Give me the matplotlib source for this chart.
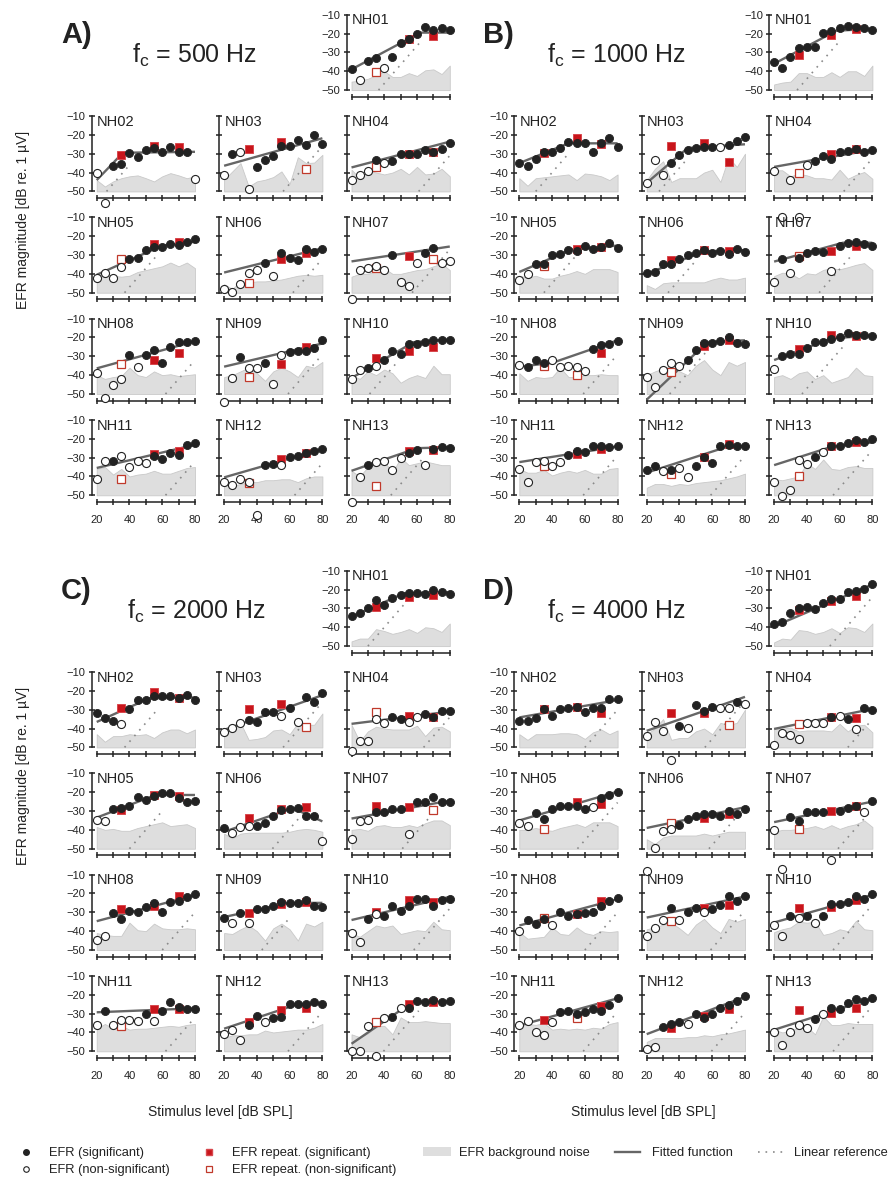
import matplotlib.pyplot as plt
import numpy as np
from matplotlib.lines import Line2D
from matplotlib.patches import Patch

plt.rcParams['font.family'] = ['Liberation Sans', 'DejaVu Sans']
plt.rcParams['mathtext.default'] = 'regular'

levels = np.arange(20, 81, 5)
rep_levels = [35, 55, 70]
subjects = ['NH%02d' % i for i in range(1, 14)]

# ---------------- fc = 500 Hz ----------------
efr_500 = [
    [-38.8, -44.7, -34.6, -33.2, -38.1, -32.3, -24.9, -23, -20, -16.7, -18.1, -17.3, -18.1],
    [-40.3, -56.2, -36.3, -35.4, -29.7, -31.5, -28.3, -27.1, -29.2, -26.2, -29, -28.9, -43.5],
    [-41.5, -30.1, -28.9, -48.6, -37.3, -33.6, -31.1, -25.9, -25.9, -22.7, -25.3, -20, -24.8],
    [-43.8, -41.5, -39.1, -33.3, -35, -34.1, -30.1, -30.3, -30.3, -28, -28.9, -27.6, -24.4],
    [-42.2, -39.6, -42.2, -36.6, -32.2, -31.7, -27.6, -25.5, -25.5, -24.1, -24.8, -22.9, -21.6],
    [-48, -49.6, -45.2, -39.6, -37.8, -34.2, -41, -29, -31.5, -32.6, -26.9, -28.6, -26.9],
    [-53.3, -38.2, -37, -36, -37.8, -29.9, -44.5, -46.3, -34.3, -28.9, -26.4, -34, -33.1],
    [-39.1, -52.3, -45.2, -42.1, -29.4, -35.6, -29.4, -26.4, -33.8, -25.3, -22.5, -22.5, -21.8],
    [-54, -41.4, -30.6, -36.4, -36.4, -33.4, -44.7, -29.4, -27.6, -27.1, -27.1, -25.5, -21.1],
    [-42.1, -37.3, -36.4, -35.2, -31.7, -27.1, -29, -23.7, -23.7, -22.3, -21.1, -21.1, -21.5],
    [-41.4, -32, -32, -28.9, -35, -32, -32.6, -29.4, -30.8, -27.3, -28.5, -23.2, -22],
    [-43.1, -44.7, -41.4, -43.1, -60.7, -34.1, -33.3, -34.1, -29.7, -29.4, -27.3, -26.7, -25.5],
    [-53.7, -40.3, -34.1, -32.4, -31.7, -36.8, -30.3, -27.3, -25.9, -34.1, -25.3, -24.4, -25],
]
sig_500 = ["1011011111111", "0011111111110", "0100111111111", "0001011111111",
           "0000111111111", "0000010111111", "0000010001100", "0000101111111",
           "0010010011111", "0010111111111", "0010000111111", "0000011011111",
           "0010000110111"]
rep_500 = [[-40.3, -22.9, -21.2], [-30.6, -25.7, -26.7], [-27.6, -23.9, -38],
           [-36.8, -30.3, -29.2], [-32, -24.3, -22.9], [-44.8, -32.2, -28.9],
           [-37.1, -30.4, -32.2], [-34.1, -31.7, -28.5], [-40.8, -34.3, -25.3],
           [-30.8, -27.3, -25], [-41.2, -28.1, -26.7], [-43.5, -30.6, -27.6],
           [-44.9, -26.7, -25.9]]
rep_sig_500 = ["011", "111", "110", "011", "011", "011", "010", "011", "011",
               "111", "011", "011", "011"]
noise_500 = [
    [-45.5, -45, -44, -42, -40, -43, -43, -41, -42.5, -39.5, -39, -41.5, -37],
    [-44, -47.4, -44.7, -43, -42, -41.5, -43, -44.7, -42, -40.3, -41.5, -43, -42],
    [-43.8, -39.4, -35, -47.4, -44.7, -43.8, -42.4, -39.4, -46, -31.9, -35, -34.7, -30.6],
    [-38.5, -43, -39, -40, -41, -40, -38, -41, -37, -41, -40.5, -38, -42],
    [-41, -40, -41, -41.5, -41, -39, -38, -37, -36, -34, -36, -34, -37],
    [-45.5, -48, -44, -44.5, -44, -44, -43.5, -43, -42, -41, -40.5, -41, -40.5],
    [-41.5, -40, -40, -38.5, -37, -40, -40, -39, -38, -37.5, -36, -34.5, -38],
    [-40, -42, -41, -40.5, -36, -40, -41, -38, -40, -39.5, -40.5, -40, -39.5],
    [-41, -40, -38, -36, -39, -43, -38, -36, -38, -41, -35, -36, -33],
    [-40, -42, -38, -40, -37, -39, -44, -41.5, -40, -41.5, -35, -39.5, -39.5],
    [-36, -35, -39, -36, -40, -39, -38.5, -37, -38.5, -38.5, -37, -35.5, -35],
    [-44, -45, -44, -43, -43, -42, -42, -41.5, -41.5, -43, -41, -40, -40],
    [-37, -40, -35, -32, -32, -38, -30, -34, -33, -32, -33, -34, -34],
]
fit_500 = [([20, 62, 80], [-39, -19.5, -19.5]), ([20, 36, 80], [-44, -29.5, -29]),
           ([20, 80], [-36.4, -21.8]), ([20, 80], [-37.3, -23.6]),
           ([20, 60, 80], [-40.5, -25, -23]), ([20, 80], [-39.3, -26.4]),
           ([20, 80], [-33.4, -25.5]), ([20, 80], [-36.4, -22]),
           ([20, 80], [-35.5, -23.2]), ([20, 58, 80], [-41.5, -22.5, -21]),
           ([20, 80], [-35.5, -23.2]), ([20, 80], [-40.5, -25.5]),
           ([20, 60, 80], [-37, -25, -24.5])]
lin_500 = [(36.5, 62), (26, 40), (56, 80), (61, 80), (37, 58), (62, 80), (57, 80),
           (62, 80), (59, 80), (31, 48), (62, 80), (63, 80), (44, 64)]

# ---------------- fc = 1000 Hz ----------------
efr_1000 = [
    [-35.3, -38.5, -32.3, -27.5, -27, -27.3, -19.9, -18.7, -17.3, -15.8, -16.7, -17.3, -18.1],
    [-34.7, -36.3, -32.9, -28.9, -28.9, -27.1, -23.6, -24.4, -24.4, -28.9, -24.1, -21.8, -26.7],
    [-45.6, -33.6, -41.2, -34.7, -30.6, -28.3, -27.1, -26.2, -26.6, -26.6, -25.3, -23, -21.3],
    [-39.2, -63.7, -43.7, -63.7, -36.1, -33.8, -31.3, -32.9, -29.3, -28.6, -27.7, -29.3, -28],
    [-43.2, -40.2, -34.9, -34.9, -30, -29.6, -27.3, -27.7, -25.2, -27, -25.6, -23.8, -26.1],
    [-39.6, -38.8, -34.9, -34.9, -32.2, -30, -28.7, -27.3, -29.1, -27.7, -29.4, -27, -28.2],
    [-44.2, -32.2, -39.7, -31.6, -28.9, -28, -28.6, -38.5, -25, -23.5, -23, -24.4, -25.3],
    [-34.7, -35.6, -32.1, -33.5, -32.1, -35.6, -35.1, -35.6, -37.8, -25.9, -24.1, -23.6, -22],
    [-40.8, -46.5, -37.3, -33.8, -35.2, -31.7, -26.4, -23.2, -23.2, -21.8, -20, -23.2, -23.7],
    [-37, -30, -28.8, -29, -25.5, -22.3, -22.3, -20.6, -20, -17.9, -18.5, -18.8, -19.2],
    [-36.1, -43.1, -32.4, -31.7, -34.7, -32.4, -28.5, -26.7, -27.1, -24.1, -24.1, -24.4, -24.1],
    [-36.8, -34.3, -37.3, -36.4, -35.6, -40.5, -34.7, -29.9, -32.6, -23.6, -23.2, -23.7, -23.6],
    [-43.1, -50.2, -47, -31.1, -33.3, -29.9, -27.1, -23.7, -23.6, -22, -20.9, -21.5, -20],
]
sig_1000 = ["1111111111111", "1111111111111", "0001111110111", "0000011111111",
            "0011111111111", "1111111111111", "0101111011111", "0111000001111",
            "0000011111111", "0111111111111", "0000001111111", "1101001111111",
            "0000010111111"]
rep_1000 = [[-31.4, -20.8, -17.8], [-29.4, -21.5, -24.8], [-25.9, -24.4, -34.5],
            [-40.1, -30.4, -27.5], [-36.1, -26.8, -25.9], [-32.6, -27.3, -27.8],
            [-30.7, -28, -25], [-35.1, -40, -28.1], [-38.2, -24.4, -21.5],
            [-26.2, -18.8, -19.2], [-34.7, -28.1, -25.3], [-38.5, -29.9, -22.7],
            [-40, -24.1, -21.8]]
rep_sig_1000 = ["111", "111", "111", "011", "011", "111", "011", "001", "011",
                "111", "011", "011", "011"]
noise_1000 = [
    [-47, -46, -45.5, -41, -41, -43, -43, -40.5, -43, -40, -40, -42.5, -37],
    [-43, -47, -43, -42.5, -42, -41.5, -41, -44, -40.5, -41, -42, -44, -41],
    [-44, -38, -34, -45, -43, -43, -43, -40, -38.5, -45, -32, -37, -30],
    [-38.8, -38.8, -42, -40.6, -41.5, -43, -43, -43.7, -38.5, -43.3, -41.2, -39.7, -43.3],
    [-41, -42, -41, -42.5, -42.5, -41, -40, -38.5, -40, -37.5, -37.5, -37.5, -39],
    [-46, -48, -45, -44.5, -44.5, -44.5, -44.5, -44.5, -43, -42, -43, -43, -42],
    [-41.2, -39.4, -39.7, -42.4, -39.7, -40.3, -37.9, -37, -37.6, -36.5, -35.2, -34.3, -37.9],
    [-39, -43, -41, -41.5, -41, -36, -41, -41, -40, -40, -39.5, -40, -40],
    [-40, -38, -36.5, -35, -38, -40, -35, -32, -37, -40, -33, -35, -33],
    [-41, -40, -42, -39, -38, -42, -40, -44, -42.5, -41, -36, -40, -40.5],
    [-36, -38, -38, -36.5, -39.5, -38, -37, -38, -36.5, -38.5, -38.5, -36, -35.5],
    [-46, -44, -44, -45, -44, -44.5, -43.5, -43, -42.5, -42, -41, -40, -38.5],
    [-41.5, -42, -41, -40, -33, -36, -31, -36, -36.5, -35, -34.5, -35.5, -35.5],
]
fit_1000 = [([20, 58, 80], [-36, -18.5, -17.5]), ([20, 50, 80], [-35, -24.5, -24.5]),
            ([20, 45, 80], [-45.5, -27, -25]), ([20, 46, 80], [-37, -33, -28]),
            ([20, 52, 80], [-39, -27, -25]), ([20, 55, 80], [-40, -28, -27.5]),
            ([20, 62, 80], [-33.5, -23.5, -23.5]), ([20, 40, 80], [-35.5, -33.5, -21.5]),
            ([20, 57, 80], [-53, -22.5, -21.5]), ([20, 55, 80], [-32, -20.5, -19]),
            ([20, 80], [-32.4, -24.1]), ([20, 70, 80], [-38, -24, -24]),
            ([20, 56, 80], [-34, -24, -22])]
lin_1000 = [(34, 60), (30, 50), (27.5, 44), (62.5, 80), (35, 56), (33, 50), (47.5, 67),
            (59, 80), (34, 57), (37, 62), (59, 80), (59, 80), (56, 80)]

# ---------------- fc = 2000 Hz ----------------
efr_2000 = [
    [-34.2, -32.7, -29.7, -25.6, -28, -24.4, -23, -21.7, -21.7, -22.1, -20.3, -21.5, -22.1],
    [-31.9, -34.2, -35.8, -37.7, -29.6, -24.9, -24.9, -22.8, -22.8, -22.8, -23.7, -22.3, -24.9],
    [-41.6, -39.8, -37.2, -35.4, -36.3, -31.4, -31.4, -33.2, -28.9, -36.3, -23.2, -25.8, -21.1],
    [-52.1, -46.8, -46.8, -34.9, -37.2, -33.7, -34.9, -36.7, -33.7, -32.5, -33.7, -30.7, -30.7],
    [-35, -35.4, -28.8, -28.3, -27.1, -22.7, -24.1, -21.8, -20.6, -20.6, -23, -25, -24.8],
    [-38.9, -41.7, -38.5, -38.2, -38, -36.4, -32.4, -29.7, -28.8, -28.5, -32.4, -32.9, -46.1],
    [-44.7, -35.4, -35, -30.6, -30.6, -29.2, -29.2, -42, -25, -25.3, -22.7, -25.3, -25],
    [-44.7, -42.4, -30.6, -33.3, -29.2, -29.7, -27.1, -25.3, -29.7, -24.4, -23.9, -21.8, -20.4],
    [-32.9, -35.9, -30.6, -35.9, -28.5, -28.3, -26.6, -24.4, -25.3, -25, -23.6, -26.6, -27.4],
    [-40.8, -45.9, -33.3, -31.1, -31.8, -26.6, -29.4, -26.7, -23.2, -23.2, -26.6, -23.6, -23.2],
    [-36, -28.4, -36, -33.3, -33.3, -33.7, -30.4, -33.7, -28.4, -23.7, -26.7, -27.5, -27.5],
    [-40.7, -38.9, -44.2, -36, -31.1, -34.2, -32.1, -31.6, -25.1, -25.1, -24.9, -23.7, -25.1],
    [-49.6, -49.6, -36.8, -52.6, -32.5, -31.9, -27.2, -26.8, -23.2, -23.7, -22.8, -23.7, -23.2],
]
sig_2000 = ["1111111111111", "1110111111111", "0001111010111", "0000011001111",
            "0011111111111", "1000111111110", "0001111011111", "0011111111111",
            "1010111111111", "0010111111111", "0100001011111", "0001101111111",
            "0000010111111"]
rep_2000 = [[-29.2, -23.9, -23], [-29.3, -20.5, -23.7], [-29.8, -27, -39.3],
            [-31.4, -33.5, -33.7], [-29.7, -21.4, -22.1], [-33.8, -29.2, -28],
            [-27.4, -28, -29.7], [-28.5, -26.7, -21.3], [-30.3, -25.7, -24.8],
            [-29.7, -23.6, -24.4], [-36.8, -27.5, -27.5], [-34.2, -28.1, -27.2],
            [-34.2, -25.1, -23.7]]
rep_sig_2000 = ["111", "111", "110", "011", "111", "111", "110", "111", "111",
                "111", "011", "111", "011"]
noise_2000 = [
    [-47.5, -46, -46, -41, -42, -43.5, -42.5, -41, -43, -40, -40.5, -42.5, -38],
    [-43, -47, -44, -44, -43, -43.5, -43, -45, -42, -40.5, -40.5, -42.5, -40.5],
    [-42, -40, -37, -46, -45.5, -44.5, -41, -40.5, -43, -37, -38, -38, -32],
    [-38, -47, -41.5, -39, -40, -40.5, -40.5, -40.5, -38.5, -44, -39.5, -39, -41.5],
    [-38.5, -40, -39.5, -40.5, -40.5, -39, -38, -37, -36, -38, -37.5, -37, -39],
    [-42, -44.5, -42, -41.5, -41.5, -41.5, -41.5, -41.5, -41, -40, -39.5, -40, -41],
    [-40, -39.5, -40.5, -38, -37.5, -38.5, -38.5, -37.5, -38.5, -36.5, -35, -35, -37.5],
    [-41, -42, -42.5, -42.5, -35.5, -39.5, -40, -36, -38.5, -39, -39, -38.5, -39],
    [-41, -41.5, -39, -37, -40, -45, -38.5, -36, -39, -45, -36, -37.5, -35],
    [-41, -43, -40, -37, -38, -37, -41.5, -40.5, -39.5, -40, -35, -39, -39.5],
    [-38, -35.5, -38, -36.5, -38.5, -38, -38, -37.5, -37, -36.5, -37, -36, -35.5],
    [-43, -41.5, -41.5, -41, -41, -39, -40, -39.5, -39, -38.5, -38.5, -37.5, -35.5],
    [-41, -42.5, -40.5, -36.5, -36.5, -41, -32, -34.5, -34.5, -34, -34.5, -35, -35],
]
fit_2000 = [([20, 52, 80], [-34.5, -22, -21.5]), ([20, 52, 80], [-36.5, -24, -23.5]),
            ([20, 80], [-40.7, -22.3]), ([20, 80], [-37.5, -31]),
            ([20, 56, 80], [-33.5, -21.5, -21.5]), ([20, 62, 80], [-41, -28.5, -35.5]),
            ([20, 80], [-34, -24.5]), ([20, 80], [-34.7, -20.9]),
            ([20, 60, 80], [-32.5, -25, -25]), ([20, 80], [-34.1, -21.8]),
            ([20, 80], [-29.3, -27.2]), ([20, 65, 80], [-38, -25, -24.5]),
            ([20, 57, 80], [-46, -24, -23.5])]
lin_2000 = [(30, 52), (37, 56), (56, 80), (64, 80), (40, 60), (49.5, 66), (51, 68),
            (60, 80), (43, 61), (58, 80), (62, 80), (59, 80), (39.5, 61)]

# ---------------- fc = 4000 Hz ----------------
efr_4000 = [
    [-38.1, -37.2, -32.2, -29.7, -29.5, -30.4, -26.9, -25.1, -25.1, -21.5, -20.7, -19.9, -17.1],
    [-35.8, -35.8, -34.6, -29.8, -33.3, -29.6, -28.9, -28.4, -31.4, -29.3, -28.9, -24.4, -24.4],
    [-43.7, -36.3, -41.1, -56.5, -38.6, -39.5, -27.5, -30.5, -28.8, -28.9, -28.9, -25.8, -27],
    [-48.6, -42.1, -43.3, -45.4, -37.2, -37.2, -37.2, -34, -33.2, -34.9, -40.2, -29.3, -30.2],
    [-36.4, -38, -31, -34.1, -28.8, -27.1, -27.1, -27.1, -28.8, -28, -23.2, -21.3, -19.7],
    [-61.6, -49.4, -40.6, -39.4, -37.3, -34.1, -32.9, -31.5, -31.8, -32.4, -30.2, -31.5, -28.8],
    [-40.3, -60.8, -33.3, -35.4, -30.6, -30.6, -30.6, -56, -29.8, -28.3, -27.1, -30.6, -24.5],
    [-39.9, -34, -36.1, -33.6, -36.7, -29.6, -32.2, -31, -30.4, -29.6, -26.9, -24.2, -22.4],
    [-42.4, -38.1, -34, -27.8, -34, -29.9, -27.8, -29.9, -28.1, -26, -21.6, -24.2, -21.2],
    [-37, -42.4, -31.7, -32.8, -31.9, -35.8, -31.9, -25.6, -25.6, -24.8, -21.2, -23, -20.1],
    [-36, -33.9, -39.8, -41.6, -34.2, -28.9, -28.6, -30.4, -28.9, -27.5, -28.6, -25.4, -21.6],
    [-48.6, -47.7, -37.2, -35.4, -34.7, -35.4, -30.2, -32.1, -30.2, -27.2, -25.4, -23.3, -20.5],
    [-39.5, -46.8, -39.5, -36.3, -37.4, -32.8, -30.4, -26.8, -27.5, -24.6, -22.3, -23.2, -21.6],
]
sig_4000 = ["1111111111111", "1111111111111", "0000101110010", "0000000101011",
            "0011111110111", "0000111111111", "0011111011101", "0111011111111",
            "0001011011111", "0010101111111", "0000011111111", "0011101111111",
            "0000010111111"]
rep_4000 = [[-31, -26, -23.3], [-29.8, -28.4, -31.6], [-31.6, -31.6, -38.1],
            [-37.7, -33.7, -34.2], [-39.7, -25.3, -26.2], [-36.2, -33.6, -31.5],
            [-39.7, -29.8, -27.1], [-32.8, -30.8, -24.2], [-34.5, -27.8, -26],
            [-27.8, -27.4, -23.7], [-33.3, -32.5, -25.8], [-37.4, -31.2, -27.7],
            [-28.1, -29.5, -26.8]]
rep_sig_4000 = ["111", "111", "110", "011", "011", "011", "011", "011", "011",
                "111", "101", "111", "111"]
noise_4000 = [
    [-48, -46, -46.5, -41.5, -42, -43.5, -42.5, -40.5, -43, -40, -40.5, -42.5, -38],
    [-43, -46, -43, -43, -43, -42.5, -42.5, -43, -45.5, -42, -40.5, -43, -41],
    [-43, -40, -35, -46, -45, -45, -41.5, -40, -43, -37, -38, -37, -30],
    [-40, -40, -39.5, -41.5, -41, -41, -41, -41.5, -37.5, -41.5, -38.5, -38, -42],
    [-40, -40, -39, -40, -40.5, -39, -38, -37, -38.5, -36, -36, -36, -38],
    [-45, -47.5, -44, -43, -43, -43, -43, -42, -43, -42, -41, -41, -41],
    [-41, -40, -40, -39.5, -39, -38, -39.5, -37.5, -39.5, -38, -37, -35, -38.5],
    [-40.5, -44, -43.5, -43, -38, -41.5, -42, -38, -41, -42, -40, -40.5, -40],
    [-39, -38, -36.5, -35.5, -38.5, -42, -36.5, -33.5, -38, -41, -33.5, -35, -33.5],
    [-40.5, -39, -38, -35, -35.5, -35, -42, -41, -39, -40, -34.5, -39, -39.5],
    [-37, -35.5, -36, -35, -38.5, -38, -38.5, -38, -38.5, -37.5, -38, -35.5, -34.5],
    [-45, -43, -43, -43, -43, -42.5, -42.5, -41.5, -42, -41, -40.5, -39.5, -38.5],
    [-38.5, -40, -39, -37.5, -37, -41, -31.5, -36, -36, -35, -35.5, -35.5, -35.5],
]
fit_4000 = [([20, 80], [-39.5, -17.3]), ([20, 80], [-34.1, -24.9]),
            ([20, 80], [-41.2, -23.2]), ([20, 80], [-40.2, -29.6]),
            ([20, 80], [-35, -19.7]), ([20, 80], [-39, -28]),
            ([20, 80], [-35.9, -25]), ([20, 80], [-37, -23]),
            ([20, 80], [-32.8, -21.6]), ([20, 80], [-35.4, -20.7]),
            ([20, 80], [-36.3, -21.9]), ([20, 80], [-40.9, -21.1]),
            ([20, 80], [-38.6, -21.9])]
lin_4000 = [(54, 80), (60, 80), (55.5, 80), (65, 80), (55.5, 80), (58, 80), (59, 78),
            (60, 80), (59, 80), (56, 80), (59, 80), (59.5, 80), (56, 80)]

panels = [
    ('A)', '500', efr_500, sig_500, rep_500, rep_sig_500, noise_500, fit_500, lin_500),
    ('B)', '1000', efr_1000, sig_1000, rep_1000, rep_sig_1000, noise_1000, fit_1000, lin_1000),
    ('C)', '2000', efr_2000, sig_2000, rep_2000, rep_sig_2000, noise_2000, fit_2000, lin_2000),
    ('D)', '4000', efr_4000, sig_4000, rep_4000, rep_sig_4000, noise_4000, fit_4000, lin_4000),
]

# layout in pixels (figure is 890 x 1180 at dpi 100)
W, H = 890.0, 1180.0
origins = [(91.8, 14.7), (514.4, 14.7), (91.8, 570.7), (514.4, 570.7)]
fc_x = [131.7, 546.7, 126.7, 546.7]
col_step, row_step = 127.4, 101.3
ax_w, ax_h = 108.1, 82.0

dark = '#222222'
red = '#c8151b'
red_edge = '#c0392b'

fig = plt.figure(figsize=(W / 100, H / 100), dpi=100)


def fx(px):
    return px / W


def fy(py):
    return 1 - py / H


def draw_subject(ax, efr, sig, rep, rep_sig, noise, fit, lin, show_y, show_x):
    efr = np.array(efr)
    sig = np.array([c == '1' for c in sig])
    rep = np.array(rep)
    rep_sig = np.array([c == '1' for c in rep_sig])

    ax.fill_between(levels, -50, noise, color='#dedede', edgecolor='#c9c9c9',
                    lw=0.6, zorder=1)
    x0, x1 = lin
    ax.plot([x0, x1], [-50, -50 + (x1 - x0)], color='#8a8a8a', lw=1.2,
            ls=(0, (1, 3.5)), zorder=2)
    ax.plot(fit[0], fit[1], color='#666666', lw=1.7, zorder=2.5,
            solid_capstyle='butt')

    rl = np.array(rep_levels)
    ax.plot(rl[rep_sig], rep[rep_sig], 's', ms=6, mfc=red, mec='#d8474d',
            mew=0.7, ls='none', zorder=3, clip_on=False)
    ax.plot(rl[~rep_sig], rep[~rep_sig], 's', ms=6, mfc='white', mec=red_edge,
            mew=0.9, ls='none', zorder=3, clip_on=False)
    ax.plot(levels[sig], efr[sig], 'o', ms=5.8, mfc=dark, mec=dark, mew=0.6,
            ls='none', zorder=4, clip_on=False)
    ax.plot(levels[~sig], efr[~sig], 'o', ms=5.8, mfc='white', mec=dark,
            mew=0.8, ls='none', zorder=4, clip_on=False)

    ax.set_xlim(17, 83)
    ax.set_ylim(-53.5, -10)
    for s in ['top', 'right']:
        ax.spines[s].set_visible(False)
    ax.spines['left'].set_bounds(-50, -10)
    ax.spines['bottom'].set_bounds(20, 80)
    for s in ['left', 'bottom']:
        ax.spines[s].set_linewidth(1.1)
        ax.spines[s].set_color(dark)
    ax.set_yticks([-10, -20, -30, -40, -50])
    ax.set_xticks(np.arange(20, 81, 10))
    ax.tick_params(direction='inout', length=5, width=1.1, color=dark,
                   labelsize=8, labelcolor=dark)
    ax.tick_params(axis='y', pad=2)
    ax.tick_params(axis='x', pad=7)
    if show_x:
        ax.set_xticklabels(['20', '', '40', '', '60', '', '80'])
    else:
        ax.set_xticklabels([])
    if not show_y:
        ax.set_yticklabels([])
    ax.patch.set_alpha(0)


for (letter, fc, efr, sig, rep, rep_sig, noise, fit, lin), (L0, T0), tx in zip(
        panels, origins, fc_x):
    for k in range(13):
        if k == 0:
            row, col = 0, 2
        else:
            row, col = 1 + (k - 1) // 3, (k - 1) % 3
        left = L0 + col * col_step
        top = T0 + row * row_step
        ax = fig.add_axes([fx(left), fy(top + ax_h), fx(ax_w), ax_h / H])
        draw_subject(ax, efr[k], sig[k], rep[k], rep_sig[k], noise[k], fit[k],
                     lin[k], show_y=(col == 0 or k == 0), show_x=(row == 4))
        ax.text(20.3, -9.3, subjects[k], fontsize=10.5, color=dark,
                ha='left', va='top')

    # panel letter and carrier frequency
    fig.text(fx(L0 - 31), fy(T0 + 28), letter, fontsize=21, fontweight='bold',
             color=dark, ha='left', va='baseline')
    fig.text(fx(tx), fy(T0 + 48), r'f$_\mathregular{c}$ = ' + fc + ' Hz',
             fontsize=18, color=dark, ha='left', va='baseline')

for yc in [220, 776]:
    fig.text(fx(23), fy(yc), 'EFR magnitude [dB re. 1 \u00b5V]', rotation=90,
             fontsize=10, color=dark, ha='center', va='center')
for xc in [220, 643]:
    fig.text(fx(xc), fy(1112), 'Stimulus level [dB SPL]', fontsize=10,
             color=dark, ha='center', va='center')

# legend entries, each placed on its own: (handle, label, x, y, handlelength, pad)
legend_items = [
    (Line2D([], [], marker='o', ls='none', ms=4, mfc=dark, mec=dark),
     'EFR (significant)', 15.5, 1153, 1.6, 1.0),
    (Line2D([], [], marker='o', ls='none', ms=4, mfc='white', mec=dark, mew=0.8),
     'EFR (non-significant)', 15.5, 1170, 1.6, 1.0),
    (Line2D([], [], marker='s', ls='none', ms=4.5, mfc=red, mec='#d8474d'),
     'EFR repeat. (significant)', 198.5, 1153, 1.6, 1.0),
    (Line2D([], [], marker='s', ls='none', ms=4.5, mfc='white', mec=red_edge, mew=0.9),
     'EFR repeat. (non-significant)', 198.5, 1170, 1.6, 1.0),
    (Patch(facecolor='#dedede', edgecolor='none'),
     'EFR background noise', 423, 1153, 2.2, 0.6),
    (Line2D([], [], color='#666666', lw=1.7),
     'Fitted function', 615, 1153, 1.9, 1.0),
    (Line2D([], [], color='#8a8a8a', lw=1.2, ls=(0, (1, 3.5))),
     'Linear reference', 758, 1153, 2.05, 0.75),
]
for handle, label, lx, ly, hl, tp in legend_items:
    fig.legend([handle], [label], loc='center left', frameon=False,
               bbox_to_anchor=(fx(lx), fy(ly)), fontsize=9.3, handlelength=hl,
               handletextpad=tp, borderpad=0, borderaxespad=0,
               labelcolor=dark)

fig.savefig('out.png', dpi=100)
